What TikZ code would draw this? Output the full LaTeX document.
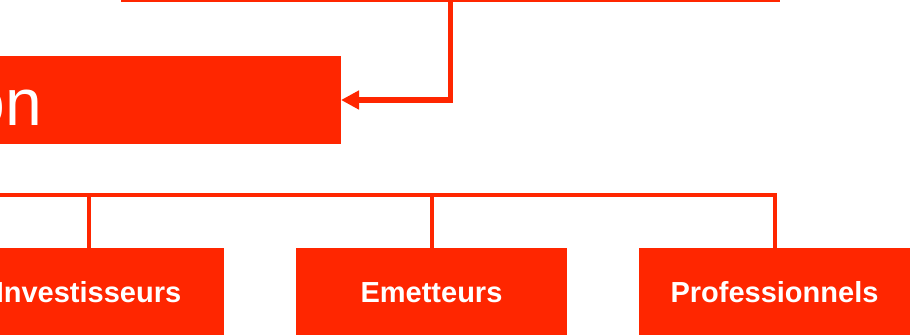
\documentclass[tikz,border=0pt]{standalone}
\usepackage{fontspec}
\setmainfont{Liberation Sans}
\usetikzlibrary{calc, arrows.meta}
\definecolor{rouge}{RGB}{255,38,0}

\begin{document}
\begin{tikzpicture}[x = 0.5pt, y = -0.5pt,
    boite/.style = {fill = rouge, text = white, inner sep = 0pt, minimum height = 44pt},
    petite/.style = {boite, minimum width = 135.5pt, font = \bfseries\fontsize{14.5pt}{17pt}\selectfont, text height = 10pt, text depth = 0pt},
    lien/.style = {draw = rouge, line width = 2pt},
    fleche/.style = {draw = rouge, line width = 2.75pt, -{Triangle[length = 9pt, width = 9pt]}}]
    \useasboundingbox (0, 0) rectangle (921, 334);

    \coordinate (hg) at (121, 0);
    \coordinate (hd) at (780, 0);
    \draw[lien] (hg) -- (hd);

    \node[boite, anchor = east, text width = 186pt, align = left, font = \fontsize{33pt}{40pt}\selectfont, text height = 25.5pt, text depth = 0pt] (struct) at (341, 100){on};
    \draw[fleche] ($(hg)!0.5!(hd)$) |- (struct.east);

    \node[petite] (inv) at (88.5, 292){Investisseurs};
    \node[petite] (emet) at (431.5, 292){Emetteurs};
    \node[petite] (pro) at (774.5, 292){Professionnels};

    \coordinate (bg) at (-200, 195);
    \draw[lien] (bg) -| (pro.north);
    \draw[lien] (inv.north) -- (inv.north |- bg);
    \draw[lien] (emet.north) -- (emet.north |- bg);
\end{tikzpicture}
\end{document}
